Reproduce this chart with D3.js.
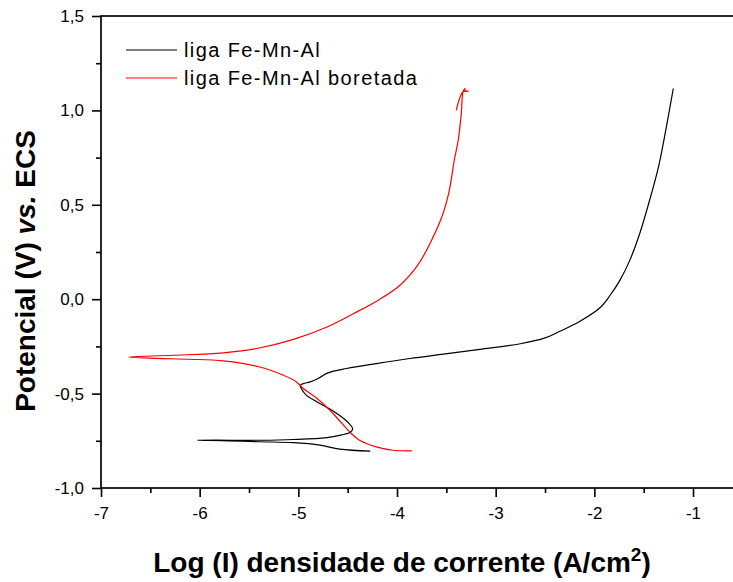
<!DOCTYPE html>
<meta charset="utf-8">
<head>
	<style>
		html, body {
			margin: 0;
			padding: 0;
			background-color: white;
		}
		svg {
			display: block;
			font-family: "Liberation Sans", Arial, sans-serif;
		}
		.tick text {
			font-size: 17px;
			fill: black;
		}
		.axis path.domain {
			display: none;
		}
		.axis line {
			stroke: black;
			stroke-width: 1.6;
		}
		.curve {
			fill: none;
			stroke-width: 1.2;
			stroke-linejoin: round;
		}
		.legend text {
			font-size: 20px;
			letter-spacing: 1.4px;
		}
	</style>
	<title>Polarização Fe-Mn-Al</title>
	<script src="https://d3js.org/d3.v7.min.js"></script>
</head>

<body>
	<script>

	// DATA (log I in A/cm2, potencial in V vs ECS)
	var ligaLogI = [-4.27, -4.58, -4.78, -5.05, -5.39, -5.70, -6.02, -5.69, -5.39, -5.05,
		-4.71, -4.56, -4.47, -4.45, -4.48, -4.54, -4.66, -4.81, -4.92, -4.97,
		-4.98, -4.95, -4.88, -4.80, -4.70, -4.51, -4.21, -3.87, -3.53, -3.16,
		-2.75, -2.50, -2.35, -2.15, -1.94, -1.84, -1.74, -1.64, -1.54, -1.44,
		-1.35, -1.27, -1.20];
	var ligaE = [-0.805, -0.794, -0.773, -0.760, -0.755, -0.750, -0.747, -0.747, -0.747, -0.743,
		-0.733, -0.719, -0.703, -0.685, -0.662, -0.632, -0.588, -0.544, -0.508, -0.473,
		-0.456, -0.447, -0.438, -0.420, -0.390, -0.367, -0.341, -0.314, -0.291, -0.266,
		-0.236, -0.205, -0.170, -0.118, -0.044, 0.021, 0.101, 0.207, 0.348, 0.524,
		0.701, 0.913, 1.116];

	var boretadaLogI = [-3.85, -4.04, -4.21, -4.38, -4.48, -4.58, -4.68, -4.81, -4.95, -5.02,
		-5.15, -5.39, -5.76, -6.10, -6.44, -6.72, -6.27, -5.76, -5.42, -5.05,
		-4.71, -4.44, -4.19, -3.97, -3.79, -3.65, -3.54, -3.47, -3.42, -3.38,
		-3.35, -3.33, -3.31, -3.32, -3.28, -3.33, -3.40];
	var boretadaE = [-0.803, -0.800, -0.782, -0.747, -0.703, -0.645, -0.588, -0.526, -0.473, -0.438,
		-0.403, -0.359, -0.327, -0.318, -0.313, -0.306, -0.297, -0.284, -0.261, -0.213,
		-0.147, -0.076, -0.005, 0.074, 0.180, 0.312, 0.445, 0.577, 0.736, 0.842,
		0.975, 1.100, 1.116, 1.102, 1.102, 1.100, 1.000];

	var seriesNames = ['liga Fe-Mn-Al', 'liga Fe-Mn-Al boretada'];
	var seriesColors = ['black', '#ff0000'];

	var xTicks = [-7, -6, -5, -4, -3, -2, -1];
	var xTickLabels = ['-7', '-6', '-5', '-4', '-3', '-2', '-1'];
	var xMinorTicks = [-6.5, -5.5, -4.5, -3.5, -2.5, -1.5, -0.5];
	var yTicks = [-1.0, -0.5, 0.0, 0.5, 1.0, 1.5];
	var yTickLabels = ['-1,0', '-0,5', '0,0', '0,5', '1,0', '1,5'];
	var yMinorTicks = [-0.75, -0.25, 0.25, 0.75, 1.25];

	// SETUP
	var W = 733, H = 582,
		margin = { top: 16, left: 101, bottom: 94 };

	var x = d3.scaleLinear().domain([-7, -0.5]).range([margin.left, margin.left + 6.5 * 98.67]),
		y = d3.scaleLinear().domain([-1.0, 1.5]).range([H - margin.bottom, margin.top]);

	var svg = d3.select('body')
		.append('svg')
		.attr('width', W)
		.attr('height', H);

	// AXES
	svg.append('g')
		.attr('class', 'axis')
		.attr('transform', 'translate(' + margin.left + ',0)')
		.call(d3.axisLeft(y).tickValues(yMinorTicks).tickSize(5).tickFormat(''));

	svg.append('g')
		.attr('class', 'axis')
		.attr('transform', 'translate(' + margin.left + ',0)')
		.call(d3.axisLeft(y).tickValues(yTicks).tickSize(9).tickPadding(8)
			.tickFormat(function(d, i) { return yTickLabels[i]; }));

	svg.append('g')
		.attr('class', 'axis')
		.attr('transform', 'translate(0,' + y(-1.0) + ')')
		.call(d3.axisBottom(x).tickValues(xMinorTicks).tickSize(5).tickFormat(''));

	svg.append('g')
		.attr('class', 'axis')
		.attr('transform', 'translate(0,' + y(-1.0) + ')')
		.call(d3.axisBottom(x).tickValues(xTicks).tickSize(9).tickPadding(10)
			.tickFormat(function(d, i) { return xTickLabels[i]; }));

	// frame
	svg.append('rect')
		.attr('x', x(-7))
		.attr('y', y(1.5))
		.attr('width', x(-0.5) - x(-7))
		.attr('height', y(-1.0) - y(1.5))
		.attr('fill', 'none')
		.attr('stroke', 'black')
		.attr('stroke-width', 1.7);

	// CURVES
	var line = d3.line()
		.curve(d3.curveCatmullRom.alpha(0.5))
		.x(function(d) { return x(d[0]); })
		.y(function(d) { return y(d[1]); });

	var curves = [
		d3.zip(ligaLogI, ligaE),
		d3.zip(boretadaLogI, boretadaE)
	];

	svg.selectAll('.curve')
		.data(curves)
		.enter().append('path')
		.attr('class', 'curve')
		.attr('stroke', function(d, i) { return seriesColors[i]; })
		.attr('d', line);

	// LEGEND
	var legend = svg.append('g')
		.attr('class', 'legend')
		.selectAll('g')
		.data(seriesNames)
		.enter().append('g')
		.attr('transform', function(d, i) { return 'translate(126,' + (50 + i * 28) + ')'; });

	legend.append('line')
		.attr('x1', 0)
		.attr('x2', 51)
		.attr('stroke', function(d, i) { return seriesColors[i]; })
		.attr('stroke-width', 1.2);

	legend.append('text')
		.attr('x', 58)
		.attr('y', 7)
		.text(function(d) { return d; });

	// TITLES
	var xTitle = svg.append('text')
		.attr('x', 402)
		.attr('y', 572)
		.attr('text-anchor', 'middle')
		.attr('font-size', '28px')
		.attr('font-weight', 'bold')
		.text('Log (I) densidade de corrente (A/cm');
	xTitle.append('tspan')
		.attr('dy', -11)
		.attr('font-size', '19px')
		.text('2');
	xTitle.append('tspan')
		.attr('dy', 11)
		.text(')');

	var yTitle = svg.append('text')
		.attr('transform', 'translate(35,271) rotate(-90)')
		.attr('text-anchor', 'middle')
		.attr('font-size', '28px')
		.attr('font-weight', 'bold');
	yTitle.append('tspan').text('Potencial (V) ');
	yTitle.append('tspan').attr('font-style', 'italic').text('vs.');
	yTitle.append('tspan').text(' ECS');

	</script>
</body>
